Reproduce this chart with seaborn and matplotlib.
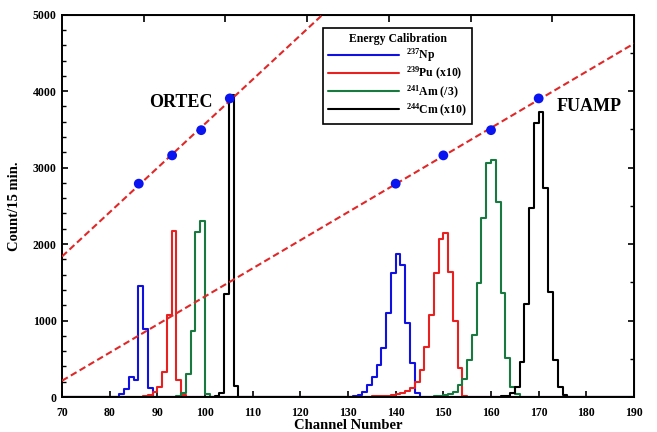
import numpy as np
import pandas as pd
import matplotlib.pyplot as plt
from matplotlib.lines import Line2D
from matplotlib.ticker import MultipleLocator
import seaborn as sns

sns.set_style("ticks")
plt.rcParams['font.family'] = ['Liberation Serif', 'DejaVu Serif']
plt.rcParams['font.weight'] = 'bold'
plt.rcParams['mathtext.fontset'] = 'custom'
plt.rcParams['mathtext.rm'] = 'Liberation Serif:bold'
plt.rcParams['mathtext.default'] = 'rm'
plt.rcParams['text.color'] = 'black'
plt.rcParams['axes.labelcolor'] = 'black'
plt.rcParams['xtick.color'] = 'black'
plt.rcParams['ytick.color'] = 'black'

# spectra: counts per channel, ORTEC peak group and FUAMP peak group
np237_ortec_start = 82
np237_ortec = [35, 110, 260, 222, 1450, 890, 113, 5]
np237_fuamp_start = 131
np237_fuamp = [10, 20, 60, 157, 266, 418, 645, 1094, 1625, 1865, 1720, 965, 450, 48, 5]

pu239_ortec_start = 86
pu239_ortec = [5, 10, 20, 60, 135, 330, 1070, 2170, 222, 30, 5]
pu239_fuamp_start = 133
pu239_fuamp = [5, 6, 8, 10, 12, 18, 25, 35, 50, 75, 115, 190, 353, 650, 1075,
               1625, 2070, 2140, 1638, 990, 385, 10]

am241_ortec_start = 93
am241_ortec = [5, 15, 55, 300, 865, 2155, 2305, 35]
am241_fuamp_start = 147
am241_fuamp = [5, 8, 12, 20, 35, 69, 157, 231, 490, 810, 1486, 2336, 3055, 3098,
               2553, 1364, 506, 135, 39, 5]

cm244_ortec_start = 102
cm244_ortec = [8, 48, 1342, 3950, 144, 5]
cm244_fuamp_start = 161
cm244_fuamp = [5, 8, 15, 48, 130, 455, 1215, 2466, 3586, 3730, 2728, 1377, 484, 127, 26, 5]

# calibration points (peak channel vs energy)
ortec_channel = [86.1, 93.1, 99.2, 105.2]
fuamp_channel = [140.0, 150.0, 160.0, 170.0]
calib_value = [2790, 3160, 3490, 3905]

labels = [r'$^{237}$Np', r'$^{239}$Pu (x10)', r'$^{241}$Am (/3)', r'$^{244}$Cm (x10)']
colors = ['#1010e0', '#e82020', '#187a40', '#000000']

channels = np.arange(70, 190)


def spectrum(s1, c1, s2, c2):
    counts = np.zeros(len(channels))
    counts[s1 - 70:s1 - 70 + len(c1)] = c1
    counts[s2 - 70:s2 - 70 + len(c2)] = c2
    return counts


spectra = [
    spectrum(np237_ortec_start, np237_ortec, np237_fuamp_start, np237_fuamp),
    spectrum(pu239_ortec_start, pu239_ortec, pu239_fuamp_start, pu239_fuamp),
    spectrum(am241_ortec_start, am241_ortec, am241_fuamp_start, am241_fuamp),
    spectrum(cm244_ortec_start, cm244_ortec, cm244_fuamp_start, cm244_fuamp),
]

fig = plt.figure(figsize=(6.57, 4.32), dpi=100)
ax = fig.add_axes([0.0944, 0.081, 0.8706, 0.885])

for counts, col in zip(spectra, colors):
    df = pd.DataFrame({'channel': channels + 0.5, 'counts': counts})
    sns.histplot(data=df, x='channel', weights='counts', binwidth=1, binrange=(70, 190),
                 element='step', fill=False, color=col, linewidth=1.5, ax=ax)

# linear calibration fits
xline = np.array([70, 190])
for ch in [ortec_channel, fuamp_channel]:
    fit = np.polyfit(ch, calib_value, 1)
    ax.plot(xline, np.polyval(fit, xline), color='#e02828', lw=1.5,
            ls=(0, (3.2, 1.7)), zorder=4)
    sns.scatterplot(x=ch, y=calib_value, color='#0a14f0', s=50, edgecolor='none',
                    zorder=5, ax=ax)

ax.text(88.3, 3790, 'ORTEC', fontsize=13, fontweight='bold')
ax.text(173.8, 3740, 'FUAMP', fontsize=13, fontweight='bold')

ax.set_xlim(70, 190)
ax.set_ylim(0, 5000)
ax.xaxis.set_major_locator(MultipleLocator(10))
ax.yaxis.set_major_locator(MultipleLocator(1000))
ax.yaxis.set_minor_locator(MultipleLocator(200))
ax.tick_params(direction='in', labelsize=8.5, width=1.2, length=4.5, pad=7)
ax.tick_params(axis='y', pad=4)
ax.tick_params(which='minor', direction='in', width=1.0, length=2.8)
for sp in ax.spines.values():
    sp.set_linewidth(1.4)
    sp.set_color('black')

# right and top ticks
ry = ax.secondary_yaxis('right')
ry.yaxis.set_major_locator(MultipleLocator(1000))
ry.yaxis.set_minor_locator(MultipleLocator(500))
ry.tick_params(direction='in', labelright=False, width=1.2, length=4.5)
ry.tick_params(which='minor', direction='in', width=1.0, length=2.8)
tx = ax.secondary_xaxis('top')
tx.set_xticks(np.linspace(70, 190, 8)[1:-1])
tx.tick_params(direction='in', labeltop=False, width=1.2, length=5)

ax.set_xlabel('Channel Number', fontsize=10.5, fontweight='bold', labelpad=0)
ax.set_ylabel('Count/15 min.', fontsize=10.5, fontweight='bold', labelpad=8)

handles = [Line2D([], [], color=c, lw=1.5) for c in colors]
leg = ax.legend(handles, labels, title='Energy Calibration', loc='upper left',
                bbox_to_anchor=(0.456, 0.965), borderaxespad=0, fancybox=False,
                framealpha=1, edgecolor='black', handlelength=6.0, handletextpad=0.6,
                labelspacing=0.1, borderpad=0.45,
                prop={'weight': 'bold', 'size': 8.5},
                title_fontproperties={'weight': 'bold', 'size': 8.5})
leg.get_frame().set_linewidth(1.2)
leg.set_zorder(10)

fig.savefig('out.png', dpi=100)
